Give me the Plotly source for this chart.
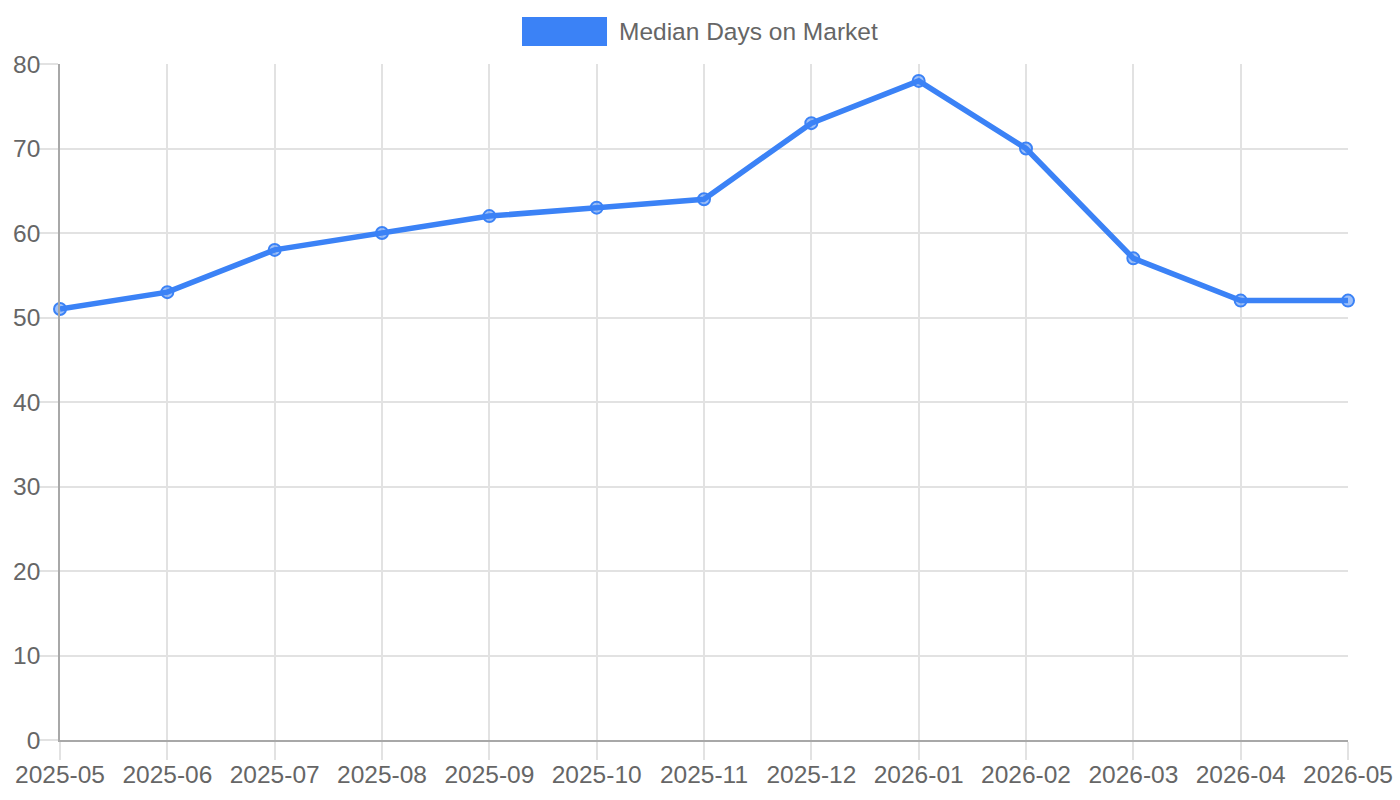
import plotly.graph_objects as go

months = ["2025-05", "2025-06", "2025-07", "2025-08", "2025-09", "2025-10", "2025-11",
          "2025-12", "2026-01", "2026-02", "2026-03", "2026-04", "2026-05"]
median_days = [51, 53, 58, 60, 62, 63, 64, 73, 78, 70, 57, 52, 52]
series_name = "Median Days on Market"
y_ticks = [0, 10, 20, 30, 40, 50, 60, 70, 80]

BLUE = "#3b82f6"
FONT = "Liberation Sans, Arial, sans-serif"
TXT = "#666666"
GRID = "#e2e2e2"
FS = 24.5

fig = go.Figure()
fig.add_trace(go.Scatter(
    x=months, y=median_days, mode="lines+markers", name=series_name,
    line=dict(color=BLUE, width=5.5),
    marker=dict(size=12, color="rgba(59,130,246,0.5)", line=dict(color=BLUE, width=2)),
    cliponaxis=False, showlegend=False,
))

fig.update_layout(
    width=1400, height=800,
    margin=dict(l=60, r=52, t=64, b=60, autoexpand=False),
    paper_bgcolor="white", plot_bgcolor="white",
    font=dict(family=FONT, size=FS, color=TXT),
    xaxis=dict(
        type="category", range=[0, len(months) - 1],
        showgrid=True, gridcolor=GRID, gridwidth=1.5,
        ticks="outside", ticklen=18, tickcolor=GRID, tickwidth=1.5,
        ticklabelstandoff=-6,
        showline=True, linecolor="#a8a8a8", linewidth=1.5,
        tickfont=dict(family=FONT, size=FS, color=TXT),
        zeroline=False, automargin=False,
    ),
    yaxis=dict(
        range=[0, 80], tickvals=y_ticks,
        showgrid=True, gridcolor=GRID, gridwidth=1.5,
        ticks="outside", ticklen=20, tickcolor=GRID, tickwidth=1.5,
        ticklabelstandoff=-7,
        showline=True, linecolor="#a8a8a8", linewidth=1.5,
        tickfont=dict(family=FONT, size=FS, color=TXT),
        zeroline=False, automargin=False,
    ),
    showlegend=False,
)

# Legend box (Chart.js style)
fig.add_shape(type="rect", xref="paper", yref="paper",
              x0=0.3587, x1=0.4247, y0=1.0266, y1=1.0695,
              fillcolor=BLUE, line=dict(width=0))
fig.add_annotation(xref="paper", yref="paper", x=0.4324, y=1.0488,
                   text=series_name, showarrow=False, xanchor="left", yanchor="middle",
                   font=dict(family=FONT, size=FS, color=TXT))

fig.write_html("out.html")
